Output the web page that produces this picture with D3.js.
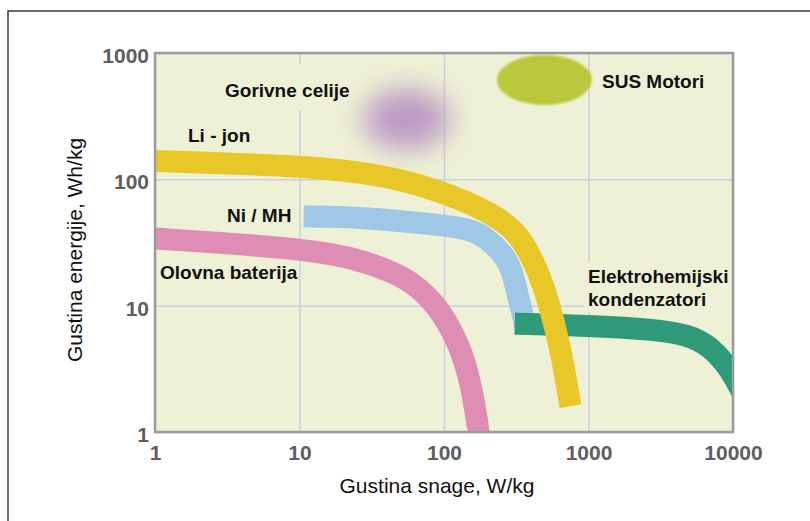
<!DOCTYPE html>
<html>
<head>
<meta charset="utf-8">
<script src="https://cdn.jsdelivr.net/npm/d3@7"></script>
<style>
  body { margin: 0; background: #fff; }
  svg { display: block; font-family: "Liberation Sans", Arial, sans-serif; }
  .tick text { font-size: 21px; font-weight: bold; fill: #5e5e5e; }
  .label { font-size: 19px; font-weight: bold; fill: #111; }
  .title { font-size: 21px; fill: #111; }
</style>
</head>
<body>
<svg id="chart" width="810" height="521"></svg>
<script>
// axis ticks
var xTicks = [1, 10, 100, 1000, 10000];
var yTicks = [1, 10, 100, 1000];

// bands: [power W/kg, energy Wh/kg]
var olovna = [[1, 34], [10, 28.6], [25.9, 23.4], [45.2, 18.2], [62.1, 14.9], [89.5, 10.1], [121, 5.55], [140, 3.58], [156, 2.15], [169, 1.24], [177, 0.86]];
var niMH = [[10.7, 51], [25.9, 50.4], [96.9, 43.5], [149, 40.5], [195, 35], [268, 24.3], [299, 18.2], [329, 11.1], [356, 8.0], [368, 6.4]];
var liJon = [[1, 140], [10, 128], [25.9, 114.5], [57.4, 97], [149, 66.2], [251, 47.7], [329, 36.3], [404, 24.3], [497, 13.8], [565, 8.0], [641, 4.46], [694, 2.68], [751, 1.6]];
var kondenzatori = [[309, 7.2], [1172, 6.9], [2718, 6.5], [4896, 5.9], [6935, 4.8], [9690, 3.1], [11700, 2.0]];

// regions: centre [power, energy], half-size in decades [x, y]
var gorivneCelije = {c: [55, 300], r: [0.3, 0.24]};
var susMotori = {c: [495, 612], r: [0.328, 0.198]};

var svg = d3.select('#chart');
var plot = {l: 155, t: 53, r: 733, b: 432};

var xScale = d3.scaleLog().domain([1, 10000]).range([plot.l, plot.r]);
var yScale = d3.scaleLog().domain([1, 1000]).range([plot.b, plot.t]);

// outer frame
svg.append('path')
    .attr('d', 'M8,521 L8,11 L810,11')
    .attr('fill', 'none')
    .attr('stroke', '#3a3a3a')
    .attr('stroke-width', 1.5);

var defs = svg.append('defs');
defs.append('clipPath').attr('id', 'plotClip')
  .append('rect')
    .attr('x', plot.l).attr('y', plot.t)
    .attr('width', plot.r - plot.l).attr('height', plot.b - plot.t);
defs.append('filter').attr('id', 'blur').attr('x', '-60%').attr('y', '-60%').attr('width', '220%').attr('height', '220%')
  .append('feGaussianBlur').attr('stdDeviation', 14);
defs.append('filter').attr('id', 'soft')
  .append('feGaussianBlur').attr('stdDeviation', 1);

// background
svg.append('rect')
    .attr('x', plot.l).attr('y', plot.t)
    .attr('width', plot.r - plot.l).attr('height', plot.b - plot.t)
    .attr('fill', '#eef1d5');

// grid
svg.append('g')
    .attr('transform', 'translate(0,' + plot.b + ')')
    .call(d3.axisBottom(xScale).tickValues(xTicks).tickSize(-(plot.b - plot.t)).tickFormat(''))
    .call(g => g.select('.domain').remove())
    .call(g => g.selectAll('line').attr('stroke', '#cfcde0').attr('stroke-width', 1.5));
svg.append('g')
    .attr('transform', 'translate(' + plot.l + ',0)')
    .call(d3.axisLeft(yScale).tickValues(yTicks).tickSize(-(plot.r - plot.l)).tickFormat(''))
    .call(g => g.select('.domain').remove())
    .call(g => g.selectAll('line').attr('stroke', '#cfcde0').attr('stroke-width', 1.5));

var chartG = svg.append('g').attr('clip-path', 'url(#plotClip)');

// label backgrounds that hide the grid
function labelBox(x, y, w, h) {
    chartG.append('rect').attr('x', x).attr('y', y).attr('width', w).attr('height', h).attr('fill', '#eef1d5');
}
labelBox(222, 64, 128, 46);
labelBox(584, 262, 148, 50);

// regions
function ellipse(r, fill, opacity, filter) {
    var cx = xScale(r.c[0]), cy = yScale(r.c[1]);
    var rx = xScale(r.c[0] * Math.pow(10, r.r[0])) - cx;
    var ry = cy - yScale(r.c[1] * Math.pow(10, r.r[1]));
    chartG.append('ellipse')
        .attr('cx', cx).attr('cy', cy).attr('rx', rx).attr('ry', ry)
        .attr('fill', fill)
        .attr('fill-opacity', opacity)
        .attr('filter', filter);
}
ellipse(gorivneCelije, '#b28bc2', 0.85, 'url(#blur)');
ellipse(susMotori, '#bac93a', 1, 'url(#soft)');

var line = d3.line()
    .x(d => xScale(d[0]))
    .y(d => yScale(d[1]))
    .curve(d3.curveBasis);

function band(data, color) {
    chartG.append('path')
        .datum(data)
        .attr('d', line)
        .attr('fill', 'none')
        .attr('stroke', color)
        .attr('stroke-width', 22)
        .attr('stroke-linecap', 'butt');
}
band(olovna, '#de8db5');
band(niMH, '#9fc7e6');
band(kondenzatori, '#2f9a79');
band(liJon, '#e8c828');

// plot frame
svg.append('rect')
    .attr('x', plot.l).attr('y', plot.t)
    .attr('width', plot.r - plot.l).attr('height', plot.b - plot.t)
    .attr('fill', 'none')
    .attr('stroke', '#9c9c9c')
    .attr('stroke-width', 2.5);

// tick labels
svg.append('g')
    .attr('transform', 'translate(0,' + plot.b + ')')
    .call(d3.axisBottom(xScale).tickValues(xTicks).tickSize(0).tickPadding(13).tickFormat(d3.format('d')))
    .call(g => g.select('.domain').remove());
svg.append('g')
    .attr('transform', 'translate(' + plot.l + ',0)')
    .call(d3.axisLeft(yScale).tickValues(yTicks).tickSize(0).tickPadding(6).tickFormat(d3.format('d')))
    .call(g => g.select('.domain').remove())
    .call(g => g.selectAll('text').attr('dy', '0.45em'));

// labels
var labels = svg.append('g');
function label(t, x, y) {
    labels.append('text').attr('class', 'label').attr('x', x).attr('y', y).text(t);
}
label('Gorivne celije', 225, 97);
label('Li - jon', 188, 142);
label('Ni / MH', 227, 222);
label('Olovna baterija', 160, 279);
label('SUS Motori', 602, 88);
label('Elektrohemijski', 588, 283);
label('kondenzatori', 588, 306);

svg.append('text')
    .attr('class', 'title')
    .attr('text-anchor', 'middle')
    .attr('x', 437).attr('y', 493)
    .text('Gustina snage, W/kg');
svg.append('text')
    .attr('class', 'title')
    .attr('text-anchor', 'middle')
    .attr('transform', 'translate(82,250) rotate(-90)')
    .text('Gustina energije, Wh/kg');
</script>
</body>
</html>
